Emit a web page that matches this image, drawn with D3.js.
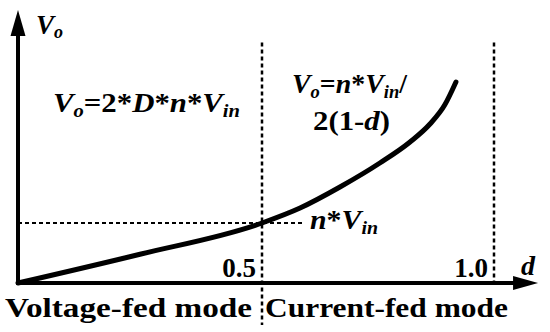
<!DOCTYPE html>
<html>
<head>
<meta charset="utf-8">
<script src="https://cdn.jsdelivr.net/npm/d3@7"></script>
<style>
body { margin: 0; background: #fff; }
</style>
</head>
<body>
<svg id="chart"></svg>
<script>
// curve: duty cycle d vs Vo (in units of n*Vin)
const dutyVals = [0, 0.25, 0.5, 0.582, 0.668, 0.754, 0.819, 0.862, 0.894, 0.918];
const voVals   = [0, 0.48, 1, 1.25, 1.60, 2.00, 2.35, 2.65, 2.97, 3.35];

const xTicks = ["0.5", "1.0"];
const xTickVals = [0.5, 1.0];
const modeLabels = ["Voltage-fed mode", "Current-fed mode"];

var width = 550, height = 332;
const serif = "'Liberation Serif', 'Times New Roman', 'DejaVu Serif', serif";
const fs = 27, subFs = 18;

var svg = d3.select("#chart")
  .attr("width", width)
  .attr("height", height)
  .attr("font-family", serif)
  .attr("font-weight", "bold");

// the picture's x axis is not quite uniform, so use a piecewise scale
let x = d3.scaleLinear()
  .domain([0, 0.5, 1])
  .range([18, 262, 494]);

let y = d3.scaleLinear()
  .domain([0, 1])
  .range([283, 223]);

const xEnd = 1.095, yEnd = 4.55;

// dashed guides
svg.append("line")
  .attr("x1", x(0)).attr("x2", x(0.59))
  .attr("y1", y(1)).attr("y2", y(1))
  .attr("stroke", "#000").attr("stroke-width", 2)
  .attr("stroke-dasharray", "4,3");

xTickVals.forEach((v, i) => {
  svg.append("line")
    .attr("x1", x(v)).attr("x2", x(v))
    .attr("y1", y(4.01)).attr("y2", i == 0 ? 325 : y(0))
    .attr("stroke", "#000").attr("stroke-width", 2.5)
    .attr("stroke-dasharray", "4,3");
});

// axes with arrow heads
svg.append("line")
  .attr("x1", x(0)).attr("x2", x(xEnd) - 20)
  .attr("y1", y(0)).attr("y2", y(0))
  .attr("stroke", "#000").attr("stroke-width", 4);
svg.append("path")
  .attr("d", `M${x(xEnd)},${y(0)} L${x(xEnd) - 25},${y(0) - 7} L${x(xEnd) - 25},${y(0) + 7} Z`)
  .attr("fill", "#000");

svg.append("line")
  .attr("x1", x(0)).attr("x2", x(0))
  .attr("y1", y(0) + 2).attr("y2", y(yEnd) + 20)
  .attr("stroke", "#000").attr("stroke-width", 4);
svg.append("path")
  .attr("d", `M${x(0)},${y(yEnd)} L${x(0) - 7.5},${y(yEnd) + 26} L${x(0) + 7.5},${y(yEnd) + 26} Z`)
  .attr("fill", "#000");

// the Vo curve
let line = d3.line()
  .x(d => x(d[0]))
  .y(d => y(d[1]))
  .curve(d3.curveMonotoneX);

svg.append("path")
  .datum(d3.zip(dutyVals, voVals))
  .attr("d", line)
  .attr("fill", "none")
  .attr("stroke", "#000")
  .attr("stroke-width", 5)
  .attr("stroke-linecap", "round");

// tick labels
xTicks.forEach((t, i) => {
  svg.append("text")
    .attr("x", x(xTickVals[i]) - 6)
    .attr("y", 277)
    .attr("text-anchor", "end")
    .attr("font-size", fs)
    .text(t);
});

// axis names
svg.append("text")
  .attr("font-style", "italic")
  .attr("x", 521).attr("y", 275)
  .attr("font-size", fs + 1)
  .text("d");

let vo = svg.append("text")
  .attr("x", 36).attr("y", 34)
  .attr("font-size", fs)
  .attr("font-style", "italic");
vo.append("tspan").text("V");
vo.append("tspan").attr("dy", 4).attr("font-size", subFs).text("o");

// mode labels
svg.append("text")
  .attr("x", 5).attr("y", 317)
  .attr("textLength", 247).attr("lengthAdjust", "spacingAndGlyphs")
  .attr("font-size", fs)
  .text(modeLabels[0]);
svg.append("text")
  .attr("x", 265).attr("y", 317)
  .attr("textLength", 243).attr("lengthAdjust", "spacingAndGlyphs")
  .attr("font-size", fs)
  .text(modeLabels[1]);

// formula helper: parts = [text, italic, subscript]
function formula(px, py, len, parts) {
  let t = svg.append("text")
    .attr("x", px).attr("y", py)
    .attr("font-size", fs);
  if (len) t.attr("textLength", len).attr("lengthAdjust", "spacingAndGlyphs");
  let down = false;
  parts.forEach(p => {
    let s = t.append("tspan").text(p[0]);
    if (p[1]) s.attr("font-style", "italic");
    if (p[2] && !down) { s.attr("dy", 5).attr("font-size", subFs); down = true; }
    else if (p[2]) { s.attr("font-size", subFs); }
    else if (down) { s.attr("dy", -5); down = false; }
  });
  return t;
}

formula(53, 112, 187, [["V", 1, 0], ["o", 1, 1], ["=2*", 0, 0], ["D", 1, 0], ["*", 0, 0], ["n", 1, 0], ["*", 0, 0], ["V", 1, 0], ["in", 1, 1]]);
formula(292, 93, 115, [["V", 1, 0], ["o", 1, 1], ["=", 0, 0], ["n", 1, 0], ["*", 0, 0], ["V", 1, 0], ["in", 1, 1], ["/", 0, 0]]);
formula(313, 130, 77, [["2(1-", 0, 0], ["d", 1, 0], [")", 0, 0]]);
formula(310, 229, 68, [["n", 1, 0], ["*", 0, 0], ["V", 1, 0], ["in", 1, 1]]);
</script>
</body>
</html>
